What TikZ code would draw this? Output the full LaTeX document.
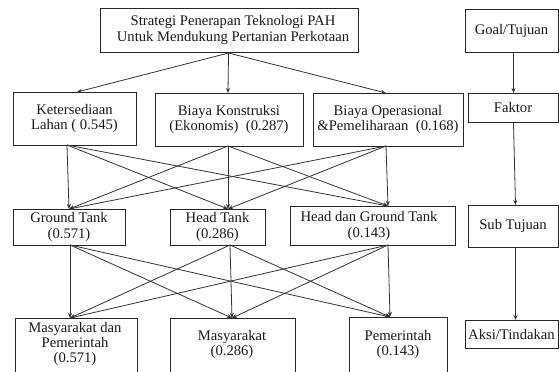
\documentclass[tikz,border=0pt]{standalone}
\usepackage{fontspec}
\setmainfont{Liberation Serif}
\usetikzlibrary{arrows.meta}
\begin{document}
\begin{tikzpicture}[x=1bp,y=-1bp,
  box/.style={draw=black!85, line width=1bp, rectangle, inner sep=0pt, anchor=north west},
  txt/.style={font=\fontsize{14.7}{15.5}\selectfont, text=black!90, align=center, inner sep=0pt},
  arr/.style={draw=black!80, line width=0.8bp, -{Stealth[length=5bp,width=4bp]}},
  ln/.style={draw=black!80, line width=0.8bp}]
\useasboundingbox[fill=white] (0,0) rectangle (560,371);

% ---- top goal
\node[box, minimum width=258bp, minimum height=44bp] (goal) at (100,8) {};
\node[txt] (goalt) at (233,30) {Strategi Penerapan Teknologi PAH\\Untuk Mendukung Pertanian Perkotaan};

% ---- factors
\node[box, minimum width=123bp, minimum height=53bp] (f1) at (13,92) {};
\node[txt] (f1t) at (74.5,118.5) {Ketersediaan\\Lahan ( 0.545)};
\node[box, minimum width=148bp, minimum height=53bp] (f2) at (155,93) {};
\node[txt] (f2t) at (229,119.5) {Biaya Konstruksi\\(Ekonomis)\ \ (0.287)};
\node[box, minimum width=150bp, minimum height=53bp] (f3) at (313,93) {};
\node[txt] (f3t) at (388,119.5) {Biaya Operasional\\\&Pemeliharaan\ \ (0.168)};

% ---- sub goals
\node[box, minimum width=112bp, minimum height=36bp] (s1) at (13,209) {};
\node[txt] (s1t) at (69,227) {Ground Tank\\(0.571)};
\node[box, minimum width=95bp, minimum height=36bp] (s2) at (170,209) {};
\node[txt] (s2t) at (217.5,227) {Head Tank\\(0.286)};
\node[box, minimum width=165bp, minimum height=39bp] (s3) at (290,206) {};
\node[txt] (s3t) at (369,226) {Head dan\ Ground Tank\\(0.143)};

% ---- actions (bottom edges cut off)
\node[box, minimum width=122bp, minimum height=70bp] (a1) at (15,318) {};
\node[txt] (a1t) at (75,344) {Masyarakat dan\\Pemerintah\\(0.571)};
\node[box, minimum width=125bp, minimum height=70bp] (a2) at (170,318) {};
\node[txt] (a2t) at (232,344.5) {Masyarakat\\(0.286)};
\node[box, minimum width=98bp, minimum height=70bp] (a3) at (349,317) {};
\node[txt] (a3t) at (398,344.5) {Pemerintah\\(0.143)};

% ---- legend column
\node[box, minimum width=93bp, minimum height=43bp] (l1) at (465,9) {};
\node[txt] (l1t) at (511.5,30.5) {Goal/Tujuan};
\node[box, minimum width=90bp, minimum height=29bp] (l2) at (468,93) {};
\node[txt] (l2t) at (513,107.5) {Faktor};
\node[box, minimum width=90bp, minimum height=42bp] (l3) at (468,205) {};
\node[txt] (l3t) at (513,226) {Sub Tujuan};
\node[box, minimum width=93bp, minimum height=28bp] (l4) at (465,320) {};
\node[txt] (l4t) at (511.5,334) {Aksi/Tindakan};

% ---- connector points
\coordinate (g0) at ([xshift=-1bp]goal.south);
\coordinate (f1in) at (77,92);
\coordinate (f2in) at (228,93);
\coordinate (f3in) at (386,93);
\draw[arr] (g0) -- (f1in);
\draw[arr] (g0) -- (f2in);
\draw[arr] (g0) -- (f3in);

\coordinate (f1o) at (67,145);
\coordinate (f2o) at (228,146);
\coordinate (f3o) at (386,146);
\coordinate (s1i) at (69,209);
\coordinate (s2i) at (228,209);
\coordinate (s3i) at (388,206);
\foreach \a in {f1o,f2o,f3o}{
  \foreach \b in {s1i,s2i,s3i}{
    \draw[arr] (\a) -- (\b);
  }
}

\coordinate (s1o) at (70,245);
\coordinate (s2o) at (230,245);
\coordinate (s3o) at (388,245);
\coordinate (a1i) at (70,318);
\coordinate (a2i) at (232,318);
\coordinate (a3i) at (390,317);
\foreach \a in {s1o,s2o,s3o}{
  \foreach \b in {a1i,a2i,a3i}{
    \draw[arr] (\a) -- (\b);
  }
}

\coordinate (l1o) at ([xshift=1.5bp]l1.south);
\coordinate (l3i) at ([xshift=2bp]l3.north);
\coordinate (l3o) at ([xshift=2bp]l3.south);
\coordinate (l4i) at ([xshift=3.5bp]l4.north);
\draw[arr] (l1o) -- (l2.north);
\draw[arr] (l2.south) -- (l3i);
\draw[arr] (l3o) -- (l4i);
\end{tikzpicture}
\end{document}
